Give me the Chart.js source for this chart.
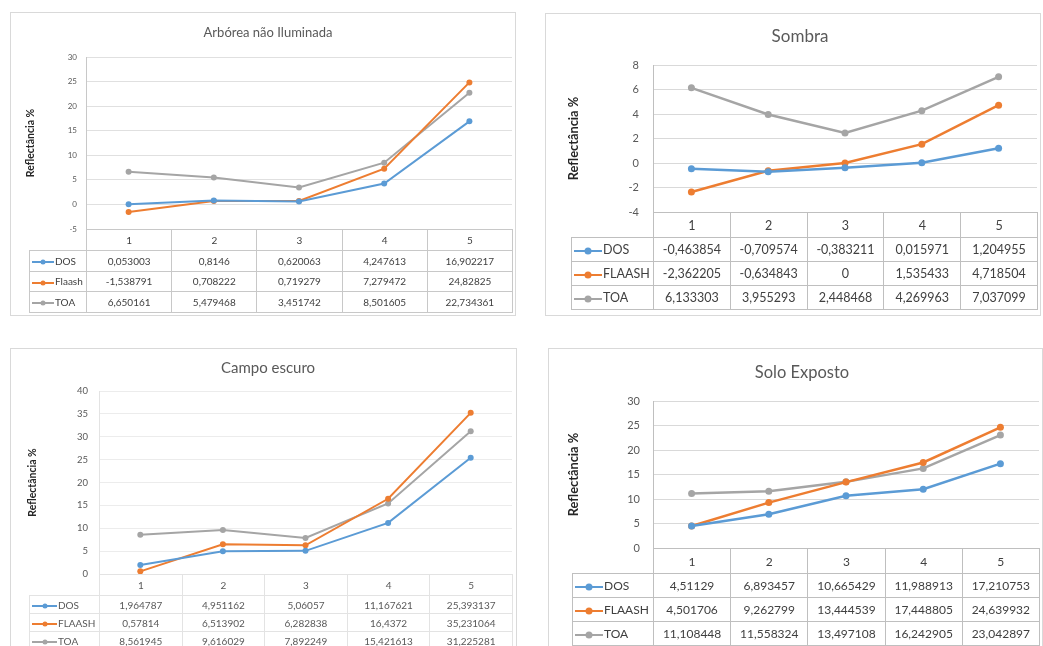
<!DOCTYPE html>
<html lang="pt">
<head>
<meta charset="utf-8">
<title>Reflectância por classe</title>
<script src="https://cdn.jsdelivr.net/npm/chart.js@4.4.1/dist/chart.umd.min.js"></script>
<style>
  html, body { margin: 0; padding: 0; background: #fff; width: 1043px; height: 646px; overflow: hidden; font-family: Lato, "Liberation Sans", sans-serif; }
  .panel { position: absolute; border: 1px solid #d9d9d9; box-sizing: border-box; background: #fff; }
  .panel canvas { position: absolute; left: -1px; top: -1px; }
  table.dt { position: absolute; border-collapse: collapse; table-layout: fixed; color: #404040; }
  table.dt td { border: 1px solid #c8c8c8; text-align: center; padding: 0; white-space: nowrap; overflow: hidden; }
  table.dt tr.head td.blank { border: none; }
  table.dt td.lg { text-align: left; padding-left: 2px; }
  .sw { display: inline-block; position: relative; height: 2px; vertical-align: middle; margin-right: 1px; }
  .sw i { position: absolute; left: 50%; top: 50%; border-radius: 50%; transform: translate(-50%, -50%); }
</style>
</head>
<body>
<script>
// categories (bandas)
const categories = ["1", "2", "3", "4", "5"];
const colors = ["#5B9BD5", "#ED7D31", "#A5A5A5"];

// Arbórea não Iluminada
const arboreaNames = ["DOS", "Flaash", "TOA"];
const arboreaDOS = [0.053003, 0.8146, 0.620063, 4.247613, 16.902217];
const arboreaFlaash = [-1.538791, 0.708222, 0.719279, 7.279472, 24.82825];
const arboreaTOA = [6.650161, 5.479468, 3.451742, 8.501605, 22.734361];
const arboreaTicks = [-5, 30, 5];

// Sombra
const sombraNames = ["DOS", "FLAASH", "TOA"];
const sombraDOS = [-0.463854, -0.709574, -0.383211, 0.015971, 1.204955];
const sombraFLAASH = [-2.362205, -0.634843, 0, 1.535433, 4.718504];
const sombraTOA = [6.133303, 3.955293, 2.448468, 4.269963, 7.037099];
const sombraTicks = [-4, 8, 2];

// Campo escuro
const campoNames = ["DOS", "FLAASH", "TOA"];
const campoDOS = [1.964787, 4.951162, 5.06057, 11.167621, 25.393137];
const campoFLAASH = [0.57814, 6.513902, 6.282838, 16.4372, 35.231064];
const campoTOA = [8.561945, 9.616029, 7.892249, 15.421613, 31.225281];
const campoTicks = [0, 40, 5];

// Solo Exposto
const soloNames = ["DOS", "FLAASH", "TOA"];
const soloDOS = [4.51129, 6.893457, 10.665429, 11.988913, 17.210753];
const soloFLAASH = [4.501706, 9.262799, 13.444539, 17.448805, 24.639932];
const soloTOA = [11.108448, 11.558324, 13.497108, 16.242905, 23.042897];
const soloTicks = [0, 30, 5];

const yTitle = "Reflectância %";

const panels = [
  { title: "Arbórea não Iluminada", names: arboreaNames, series: [arboreaDOS, arboreaFlaash, arboreaTOA], ticks: arboreaTicks,
    box: [10, 12, 506, 304], plot: [86, 57, 515, 229], titleX: 268, titleY: 33, titleSize: 13,
    yTitleX: 31, yTitleSize: 10.5, tickSize: 8, tickGap: 9, legendX: 29, headH: 21, rowH: 20.5,
    font: 10, sw: 22, dot: 5, lw: 2, pr: 3, line: "#c8c8c8", text: "#404040", grid: "#e0e0e0" },
  { title: "Sombra", names: sombraNames, series: [sombraDOS, sombraFLAASH, sombraTOA], ticks: sombraTicks,
    box: [545, 13, 496, 303], plot: [653, 65, 1038, 212], titleX: 800, titleY: 37, titleSize: 17,
    yTitleX: 574, yTitleSize: 12.8, tickSize: 11, tickGap: 14, legendX: 571, headH: 25, rowH: 24,
    font: 12.5, sw: 28, dot: 7, lw: 2.5, pr: 3.5, line: "#bfbfbf", text: "#404040", grid: "#d9d9d9" },
  { title: "Campo escuro", names: campoNames, series: [campoDOS, campoFLAASH, campoTOA], ticks: campoTicks,
    box: [10, 348, 507, 310], plot: [99, 391, 512, 574], titleX: 268, titleY: 368, titleSize: 15,
    yTitleX: 33, yTitleSize: 10.5, tickSize: 9.5, tickGap: 11, legendX: 29, headH: 21, rowH: 18,
    font: 10, sw: 25, dot: 5, lw: 2, pr: 3, line: "#e3e3e3", text: "#595959", grid: "#ececec" },
  { title: "Solo Exposto", names: soloNames, series: [soloDOS, soloFLAASH, soloTOA], ticks: soloTicks,
    box: [548, 348, 495, 310], plot: [653, 401, 1040, 548], titleX: 802, titleY: 373, titleSize: 16.5,
    yTitleX: 574, yTitleSize: 12.8, tickSize: 11, tickGap: 13, legendX: 572, headH: 25, rowH: 24,
    font: 12, sw: 28, dot: 7, lw: 2.5, pr: 3.5, line: "#bfbfbf", text: "#404040", grid: "#d9d9d9" }
];

const fmt = v => String(v).replace(".", ",");

function buildPanel(p) {
  const [bx, by, bw, bh] = p.box;
  const wrap = document.createElement("div");
  wrap.className = "panel";
  Object.assign(wrap.style, { left: bx + "px", top: by + "px", width: bw + "px", height: bh + "px" });
  document.body.appendChild(wrap);
  const cv = document.createElement("canvas");
  cv.width = bw;
  cv.height = bh;
  wrap.appendChild(cv);

  // turn the wanted page positions into paddings
  const padR = bw - (p.plot[2] - bx);
  const padL = 2 * (p.titleX - bx) - bw + padR;
  const axisW = (p.plot[0] - bx) - padL;
  const tLH = p.titleSize * 1.2;
  const tPadTop = (p.titleY - by) - tLH / 2;
  const tPadBot = (p.plot[1] - by) - tPadTop - tLH;
  const yLH = p.yTitleSize * 1.2;
  const yPad = (p.yTitleX - bx - padL) - yLH / 2;

  const chart = new Chart(cv, {
    type: "line",
    data: {
      labels: categories,
      datasets: p.series.map((d, i) => ({
        label: p.names[i],
        data: d,
        borderColor: colors[i],
        backgroundColor: colors[i],
        pointBackgroundColor: colors[i],
        pointBorderColor: colors[i],
        borderWidth: p.lw,
        pointRadius: p.pr,
        pointBorderWidth: 0,
        tension: 0
      }))
    },
    options: {
      responsive: false,
      animation: false,
      layout: { padding: { left: padL, right: padR, top: 0, bottom: bh - (p.plot[3] - by) } },
      plugins: {
        legend: { display: false },
        tooltip: { enabled: false },
        title: {
          display: true, text: p.title, color: "#595959",
          font: { family: "Lato", size: p.titleSize, weight: "normal", lineHeight: 1.2 },
          padding: { top: tPadTop, bottom: tPadBot }
        }
      },
      scales: {
        x: { display: false, offset: true },
        y: {
          min: p.ticks[0], max: p.ticks[1],
          ticks: { stepSize: p.ticks[2], color: "#595959", padding: p.tickGap, font: { family: "Lato", size: p.tickSize } },
          grid: { color: p.grid, drawTicks: false },
          border: { display: true, color: p.line },
          title: {
            display: true, text: yTitle, color: "#262626",
            font: { family: "Lato", size: p.yTitleSize, weight: "bold", lineHeight: 1.2 },
            padding: { top: yPad, bottom: 0 }
          },
          afterFit: s => { s.width = axisW; }
        }
      }
    }
  });

  // data table under the plot, columns follow the category scale
  const area = chart.chartArea;
  const xs = chart.scales.x;
  const edges = [area.left];
  for (let i = 0; i < categories.length - 1; i++) {
    edges.push((xs.getPixelForValue(i) + xs.getPixelForValue(i + 1)) / 2);
  }
  edges.push(area.right);
  const legW = bx + area.left - p.legendX;
  const widths = [legW];
  for (let i = 0; i < categories.length; i++) widths.push(edges[i + 1] - edges[i]);

  const tbl = document.createElement("table");
  tbl.className = "dt";
  Object.assign(tbl.style, {
    left: p.legendX + "px", top: (by + area.bottom) + "px",
    width: widths.reduce((a, b) => a + b, 0) + "px",
    fontSize: p.font + "px", color: p.text
  });
  let html = "<colgroup>" + widths.map(w => `<col style="width:${w}px">`).join("") + "</colgroup>";
  html += `<tr class="head" style="height:${p.headH}px"><td class="blank"></td>` +
    categories.map(c => `<td style="border-color:${p.line}">${c}</td>`).join("") + "</tr>";
  p.series.forEach((d, i) => {
    html += `<tr style="height:${p.rowH}px"><td class="lg" style="border-color:${p.line}">` +
      `<span class="sw" style="width:${p.sw}px;background:${colors[i]}"><i style="width:${p.dot}px;height:${p.dot}px;background:${colors[i]}"></i></span>${p.names[i]}</td>` +
      d.map(v => `<td style="border-color:${p.line}">${fmt(v)}</td>`).join("") + "</tr>";
  });
  tbl.innerHTML = html;
  document.body.appendChild(tbl);
}

panels.forEach(buildPanel);
</script>
</body>
</html>
